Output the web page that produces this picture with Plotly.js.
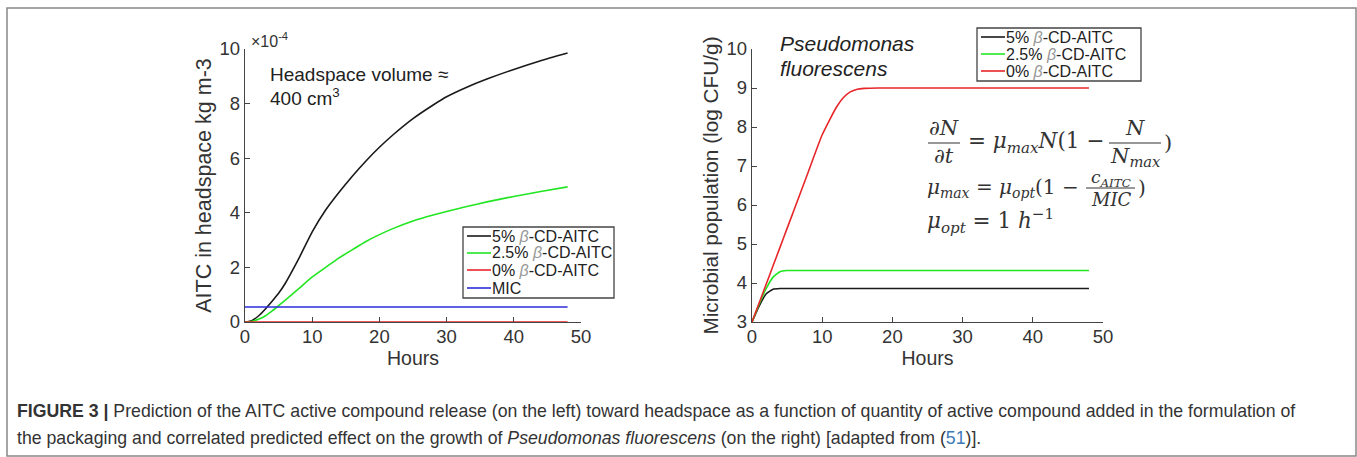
<!DOCTYPE html>
<html>
<head>
<meta charset="utf-8">
<script src="https://cdn.plot.ly/plotly-3.0.1.min.js"></script>
<style>html,body{margin:0;padding:0;background:#fff;}#chart{width:1357px;height:457px;}</style>
</head>
<body>
<div id="chart"></div>
<script>
// ---------- data: left panel (AITC in headspace, ×10^-4 kg m-3) ----------
const hoursA = [0,1,2,3,4,5,6,8,10,12,14,16,18,20,22,25,28,30,33,36,40,44,48];
const aitc5  = [0,0.05,0.22,0.47,0.75,1.05,1.42,2.32,3.3,4.1,4.75,5.35,5.9,6.4,6.85,7.45,7.95,8.25,8.6,8.9,9.25,9.57,9.85];
const aitc25 = [0,0.02,0.1,0.22,0.4,0.6,0.8,1.22,1.65,2.0,2.35,2.65,2.95,3.2,3.42,3.7,3.92,4.05,4.23,4.4,4.6,4.78,4.95];
const aitc0  = [0,0,0,0,0,0,0,0,0,0,0,0,0,0,0,0,0,0,0,0,0,0,0];
const micT   = [0,48];
const micV   = [0.55,0.55];

// ---------- data: right panel (log CFU/g) ----------
const hoursB = [0,1,2,3,4,5,6,8,10,12,13,14,15,16,18,20,30,40,48];
const pop5   = [3,3.4,3.72,3.84,3.86,3.86,3.86,3.86,3.86,3.86,3.86,3.86,3.86,3.86,3.86,3.86,3.86,3.86,3.86];
const pop25  = [3,3.45,3.85,4.15,4.29,4.32,4.32,4.32,4.32,4.32,4.32,4.32,4.32,4.32,4.32,4.32,4.32,4.32,4.32];
const pop0   = [3,3.48,3.96,4.44,4.92,5.4,5.88,6.84,7.8,8.5,8.75,8.9,8.97,8.99,9.0,9.0,9.0,9.0,9.0];

// ---------- labels ----------
const seriesNames = ['5% ','2.5% ','0% '];
const leftNames = ['5% ','2.5% ','0% ','MIC'];
const colors = ['#1a1a1a','#22e622','#e8262a','#2b2bdc'];
const beta = '<span style="color:#999"><i>β</i></span>-CD-AITC';
const xTicksA = [0,10,20,30,40,50];
const yTicksA = [0,2,4,6,8,10];
const yTicksB = [3,4,5,6,7,8,9,10];

const W = 1357, H = 457;
const px = v => v / W;
const py = v => 1 - v / H;
const lineStyle = (c) => ({color:c, width:1.6, shape:'spline', smoothing:0.5});

const traces = [
  {x: hoursA, y: aitc5,  name: leftNames[0] + beta, line: lineStyle(colors[0]), xaxis:'x', yaxis:'y'},
  {x: hoursA, y: aitc25, name: leftNames[1] + beta, line: lineStyle(colors[1]), xaxis:'x', yaxis:'y'},
  {x: hoursA, y: aitc0,  name: leftNames[2] + beta, line: lineStyle(colors[2]), xaxis:'x', yaxis:'y'},
  {x: micT,   y: micV,   name: leftNames[3],        line: lineStyle(colors[3]), xaxis:'x', yaxis:'y'},
  {x: hoursB, y: pop5,   name: seriesNames[0] + beta, line: lineStyle(colors[0]), xaxis:'x2', yaxis:'y2'},
  {x: hoursB, y: pop25,  name: seriesNames[1] + beta, line: lineStyle(colors[1]), xaxis:'x2', yaxis:'y2'},
  {x: hoursB, y: pop0,   name: seriesNames[2] + beta, line: lineStyle(colors[2]), xaxis:'x2', yaxis:'y2'}
].map(t => Object.assign({type:'scatter', mode:'lines', hoverinfo:'skip', showlegend:false}, t));

const SANS = 'Liberation Sans, Arial, Helvetica, sans-serif';
const tickFont = {family:SANS, size:18.5, color:'#333'};
const axisCommon = {
  showline:true, linecolor:'#444', linewidth:1.3, ticks:'inside', ticklen:5, tickcolor:'#444',
  showgrid:false, zeroline:false, tickfont:tickFont, mirror:false, fixedrange:true
};

const SERIF = 'DejaVu Serif, Liberation Serif, serif';
const eqFont = (s) => ({family:SERIF, size:s, color:'#333'});
const ann = (x, y, text, opts) => Object.assign({xref:'paper', yref:'paper', x:px(x), y:py(y), text:text, showarrow:false, xanchor:'left', yanchor:'middle'}, opts || {});

const annotations = [
  ann(249, 40, '×10<sup>-4</sup>', {font:{family:SANS, size:16, color:'#333'}}),
  ann(268, 74, 'Headspace volume ≈', {font:{family:SANS, size:19, color:'#222'}}),
  ann(268, 97, '400 cm<sup>3</sup>', {font:{family:SANS, size:19, color:'#222'}}),
  ann(778, 44, '<i>Pseudomonas</i>', {font:{family:SANS, size:21, color:'#222'}}),
  ann(778, 69, '<i>fluorescens</i>', {font:{family:SANS, size:21, color:'#222'}}),
  // equation line 1
  ann(944, 128, '∂<i>N</i>', {xanchor:'center', font:eqFont(21)}),
  ann(944, 156, '∂<i>t</i>', {xanchor:'center', font:eqFont(21)}),
  ann(966, 143, '= <i>μ<sub>max</sub>N</i>(1 −', {font:eqFont(21.5)}),
  ann(1135, 128, '<i>N</i>', {xanchor:'center', font:eqFont(21)}),
  ann(1135, 157, '<i>N<sub>max</sub></i>', {xanchor:'center', font:eqFont(21)}),
  ann(1162, 143, ')', {font:eqFont(21)}),
  // equation line 2
  ann(925, 188, '<i>μ<sub>max</sub></i> = <i>μ<sub>opt</sub></i>(1 −', {font:eqFont(20)}),
  ann(1111, 178, '<i>c<sub>AITC</sub></i>', {xanchor:'center', font:eqFont(17)}),
  ann(1111, 199, '<i>MIC</i>', {xanchor:'center', font:eqFont(18)}),
  ann(1136, 188, ')', {font:eqFont(20)}),
  // equation line 3
  ann(925, 221, '<i>μ<sub>opt</sub></i> = 1 <i>h</i><sup>−1</sup>', {font:eqFont(21.5)}),
  // caption
  ann(15, 411, '<b>FIGURE 3 |</b> Prediction of the AITC active compound release (on the left) toward headspace as a function of quantity of active compound added in the formulation of', {font:{family:SANS, size:17.7, color:'#333'}}),
  ann(15, 438, 'the packaging and correlated predicted effect on the growth of <i>Pseudomonas fluorescens</i> (on the right) [adapted from (<span style="color:#3d7ab8">51</span>)].', {font:{family:SANS, size:17.7, color:'#333'}})
];

const shapes = [
  {type:'rect', xref:'paper', yref:'paper', x0:px(7), x1:px(1356), y0:py(456), y1:py(8), line:{color:'#888', width:1.5}, fillcolor:'rgba(0,0,0,0)', layer:'below'},
  {type:'line', xref:'paper', yref:'paper', x0:px(928), x1:px(960), y0:py(143), y1:py(143), line:{color:'#333', width:1}},
  {type:'line', xref:'paper', yref:'paper', x0:px(1109), x1:px(1161), y0:py(143), y1:py(143), line:{color:'#333', width:1}},
  {type:'line', xref:'paper', yref:'paper', x0:px(1086), x1:px(1135), y0:py(188), y1:py(188), line:{color:'#333', width:1}}
];

// ---------- hand-built legends (compact, MATLAB style) ----------
function addLegend(names, cols, box, rows) {
  shapes.push({type:'rect', xref:'paper', yref:'paper', x0:px(box[0]), x1:px(box[1]), y0:py(box[3]), y1:py(box[2]),
    line:{color:'#444', width:1.3}, fillcolor:'#fff', layer:'above'});
  names.forEach((n, i) => {
    const yy = rows[i];
    shapes.push({type:'line', xref:'paper', yref:'paper', x0:px(box[0]+4), x1:px(box[0]+28), y0:py(yy), y1:py(yy),
      line:{color:cols[i], width:1.6}, layer:'above'});
    annotations.push(ann(box[0]+27, yy, n, {font:{family:SANS, size:16, color:'#222'}}));
  });
}
addLegend([leftNames[0]+beta, leftNames[1]+beta, leftNames[2]+beta, leftNames[3]], colors, [463, 614, 227, 298], [236, 253, 270, 288]);
addLegend(seriesNames.map(s => s + beta), colors, [977, 1141, 28, 81], [37, 54, 71]);

const layout = {
  width:W, height:H, margin:{l:0,r:0,t:0,b:0},
  paper_bgcolor:'#fff', plot_bgcolor:'rgba(0,0,0,0)',
  showlegend:false,
  xaxis: Object.assign({}, axisCommon, {domain:[px(245), px(581)], range:[0,50], tickvals:xTicksA, anchor:'y', ticklabelstandoff:-3,
    title:{text:'Hours', font:{family:SANS, size:19.5, color:'#333'}, standoff:0}}),
  yaxis: Object.assign({}, axisCommon, {domain:[py(322), py(49)], range:[0,10], tickvals:yTicksA, anchor:'x',
    title:{text:'AITC in headspace kg m-3', font:{family:SANS, size:21.5, color:'#333'}, standoff:2}}),
  xaxis2: Object.assign({}, axisCommon, {domain:[px(752), px(1103)], range:[0,50], tickvals:xTicksA, anchor:'y2', ticklabelstandoff:-3,
    title:{text:'Hours', font:{family:SANS, size:19.5, color:'#333'}, standoff:0}}),
  yaxis2: Object.assign({}, axisCommon, {domain:[py(322), py(49)], range:[3,10], tickvals:yTicksB, anchor:'x2',
    title:{text:'Microbial population (log CFU/g)', font:{family:SANS, size:20.8, color:'#333'}, standoff:2}}),
  annotations: annotations,
  shapes: shapes
};

Plotly.newPlot('chart', traces, layout, {staticPlot:true, displayModeBar:false});
</script>
</body>
</html>
